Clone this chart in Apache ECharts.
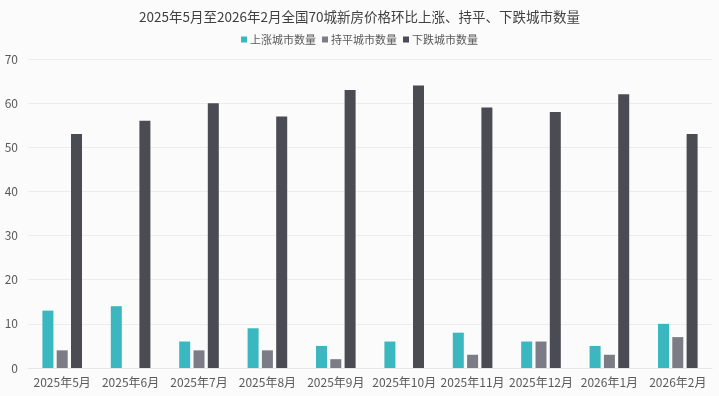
<!DOCTYPE html>
<html><head><meta charset="utf-8">
<script src="https://cdn.jsdelivr.net/npm/echarts@6/dist/echarts.min.js"></script>
<style>html,body{margin:0;padding:0;background:#fbfbfb}#c{width:719px;height:396px}</style>
</head><body><div id="c"></div>
<script>
const categories = ['2025年5月','2025年6月','2025年7月','2025年8月','2025年9月','2025年10月','2025年11月','2025年12月','2026年1月','2026年2月'];
const upCounts = [13, 14, 6, 9, 5, 6, 8, 6, 5, 10];
const flatCounts = [4, 0, 4, 4, 2, 0, 3, 6, 3, 7];
const downCounts = [53, 56, 60, 57, 63, 64, 59, 58, 62, 53];
const seriesNames = ['上涨城市数量','持平城市数量','下跌城市数量'];
const yTicks = [0, 10, 20, 30, 40, 50, 60, 70];

const chart = echarts.init(document.getElementById('c'));
const font = '"Noto Sans CJK SC", "Open Sans", sans-serif';
chart.setOption({
  backgroundColor: '#fbfbfb',
  animation: false,
  title: {
    text: '2025年5月至2026年2月全国70城新房价格环比上涨、持平、下跌城市数量',
    left: 'center', top: 5,
    textStyle: { fontSize: 13.5, fontWeight: 'normal', color: '#404040', fontFamily: font }
  },
  legend: {
    top: 29, left: 'center',
    itemWidth: 6, itemHeight: 6, itemGap: 6,
    icon: 'rect',
    textStyle: { fontSize: 11, color: '#595959', fontFamily: font, padding: [0,0,0,-2] },
    data: seriesNames
  },
  grid: { left: 28, right: 7, top: 59, bottom: 28, containLabel: false },
  xAxis: {
    type: 'category', data: categories,
    axisLine: { show: true, lineStyle: { color: '#e6e6e6' } },
    axisTick: { show: false },
    axisLabel: { fontSize: 12, color: '#595959', fontFamily: font, margin: 8, interval: 0 }
  },
  yAxis: {
    type: 'value', min: yTicks[0], max: yTicks[yTicks.length-1], interval: 10,
    axisLine: { show: false }, axisTick: { show: false },
    axisLabel: { fontSize: 12, color: '#595959', fontFamily: font, margin: 10 },
    splitLine: { lineStyle: { color: '#ececec' } }
  },
  series: [
    { name: seriesNames[0], type: 'bar', data: upCounts, itemStyle: { color: '#3ab7bf' }, barWidth: 11, barGap: '30%' },
    { name: seriesNames[1], type: 'bar', data: flatCounts, itemStyle: { color: '#7c7c86' }, barWidth: 11, barGap: '30%' },
    { name: seriesNames[2], type: 'bar', data: downCounts, itemStyle: { color: '#4b4b53' }, barWidth: 11, barGap: '30%' }
  ]
});
</script></body></html>
